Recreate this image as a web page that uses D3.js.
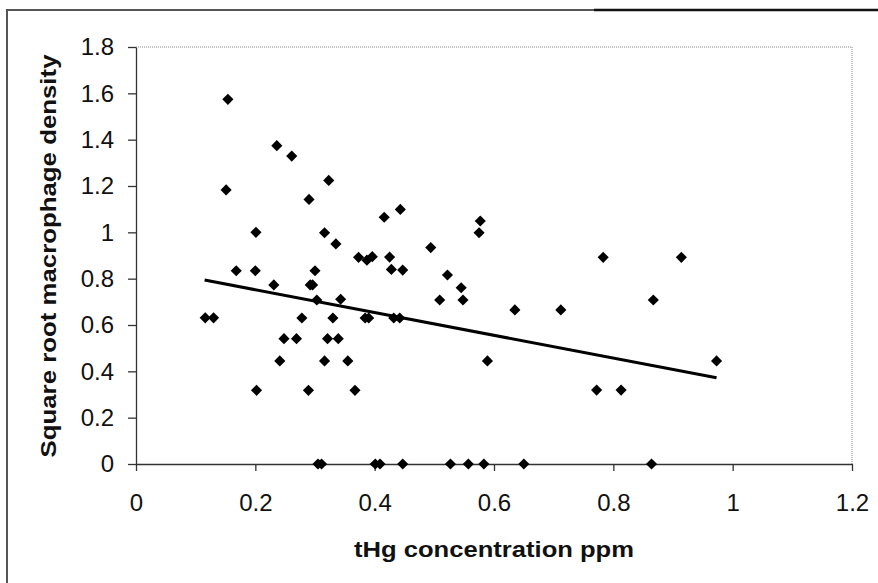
<!DOCTYPE html>
<html>
<head>
<meta charset="utf-8">
<script src="https://cdn.jsdelivr.net/npm/d3@7"></script>
<style>
	body { margin: 0; background: #fff; }
	text { font-family: "Liberation Sans", Arial, sans-serif; fill: #111; }
	.axis-title { font-weight: bold; }
	.tick text { font-family: "Liberation Sans Narrow", "Arial Narrow", "Liberation Sans", sans-serif; font-size: 24px; }
</style>
</head>
<body>
<svg></svg>
<script>
// tHg concentration (ppm) and square root macrophage density, one entry per fish
const tHg = [
	0.154, 0.151, 0.236, 0.261, 0.323, 0.290, 0.416, 0.443, 0.577, 0.575,
	0.201, 0.316, 0.335, 0.494, 0.373, 0.387, 0.396, 0.425, 0.783, 0.914,
	0.168, 0.200, 0.300, 0.428, 0.447, 0.522, 0.231, 0.292, 0.296, 0.545,
	0.303, 0.343, 0.509, 0.548, 0.867, 0.635, 0.712, 0.116, 0.130, 0.278,
	0.330, 0.384, 0.390, 0.432, 0.442, 0.248, 0.269, 0.321, 0.339, 0.241,
	0.316, 0.355, 0.589, 0.973, 0.202, 0.289, 0.367, 0.772, 0.813,
	0.305, 0.311, 0.401, 0.409, 0.447, 0.527, 0.557, 0.583, 0.650, 0.864
]
const density = [
	1.574, 1.183, 1.374, 1.329, 1.224, 1.142, 1.065, 1.099, 1.049, 0.998,
	1.000, 0.998, 0.950, 0.934, 0.892, 0.880, 0.895, 0.893, 0.892, 0.892,
	0.834, 0.834, 0.834, 0.840, 0.837, 0.816, 0.773, 0.773, 0.773, 0.761,
	0.708, 0.711, 0.708, 0.708, 0.708, 0.665, 0.665, 0.631, 0.631, 0.630,
	0.630, 0.630, 0.630, 0.630, 0.630, 0.541, 0.541, 0.541, 0.541, 0.445,
	0.445, 0.445, 0.445, 0.445, 0.318, 0.318, 0.318, 0.319, 0.319,
	0, 0, 0, 0, 0, 0, 0, 0, 0, 0
]

// linear trend line ends
const trendX = [0.115, 0.973]
const trendY = [0.794, 0.372]

const xTicks = [0, 0.2, 0.4, 0.6, 0.8, 1, 1.2]
const yTicks = [0, 0.2, 0.4, 0.6, 0.8, 1, 1.2, 1.4, 1.6, 1.8]

const svg = d3.select("svg")
	.attr("width", 878)
	.attr("height", 583)

const xScale = d3.scaleLinear()
	.domain([0, 1.2])
	.range([136, 852])

const yScale = d3.scaleLinear()
	.domain([0, 1.8])
	.range([464, 47])

// outer frame (top and left edges only are in view)
svg.append("path")
	.attr("d", "M7,583 L7,10 L878,10")
	.attr("fill", "none")
	.attr("stroke", "#555")
	.attr("stroke-width", 2)

svg.append("line")
	.attr("x1", 594).attr("x2", 878)
	.attr("y1", 10).attr("y2", 10)
	.attr("stroke", "#111")
	.attr("stroke-width", 2.5)

// plot area border, dotted grey on the top and right
svg.append("path")
	.attr("d", `M${xScale(0)},${yScale(1.8)} L${xScale(1.2)},${yScale(1.8)} L${xScale(1.2)},${yScale(0)}`)
	.attr("fill", "none")
	.attr("stroke", "#888")
	.attr("stroke-width", 1)
	.attr("stroke-dasharray", "1,1")

const xAxis = svg.append("g")
	.attr("transform", `translate(0, ${yScale(0)})`)
	.call(d3.axisBottom(xScale)
		.tickValues(xTicks)
		.tickFormat((d) => { return d3.format("")(d) })
		.tickSize(7)
		.tickPadding(23)
		.tickSizeOuter(0))

const yAxis = svg.append("g")
	.attr("transform", `translate(${xScale(0)}, 0)`)
	.call(d3.axisLeft(yScale)
		.tickValues(yTicks)
		.tickFormat((d) => { return d3.format("")(d) })
		.tickSize(8)
		.tickPadding(14)
		.tickSizeOuter(0))

svg.selectAll(".domain, .tick line")
	.attr("stroke", "#333")
	.attr("stroke-width", 1.3)

svg.selectAll(".tick text")
	.attr("fill", "#111")

svg.selectAll("g").attr("font-size", null).attr("font-family", null)

svg.append("text")
	.attr("class", "axis-title")
	.attr("x", 494)
	.attr("y", 557)
	.attr("text-anchor", "middle")
	.attr("textLength", 280)
	.attr("lengthAdjust", "spacingAndGlyphs")
	.style("font-size", "22px")
	.text("tHg concentration ppm")

svg.append("text")
	.attr("class", "axis-title")
	.attr("transform", "translate(56, 256) rotate(-90)")
	.attr("text-anchor", "middle")
	.attr("textLength", 403)
	.attr("lengthAdjust", "spacingAndGlyphs")
	.style("font-size", "22px")
	.text("Square root macrophage density")

const diamond = d3.symbol()
	.type(d3.symbolSquare)
	.size(62)

svg.append("g")
	.attr("class", "points")
	.selectAll("path")
	.data(tHg)
	.enter()
	.append("path")
	.attr("d", diamond)
	.attr("transform", (d, i) => { return `translate(${xScale(d)}, ${yScale(density[i])}) rotate(45)` })
	.attr("fill", "#000")

const lineGenerator = d3.line()
	.x((d, i) => { return xScale(d) })
	.y((d, i) => { return yScale(trendY[i]) })

svg.append("path")
	.datum(trendX)
	.attr("d", lineGenerator)
	.attr("fill", "none")
	.attr("stroke", "#000")
	.attr("stroke-width", 3)
</script>
</body>
</html>
